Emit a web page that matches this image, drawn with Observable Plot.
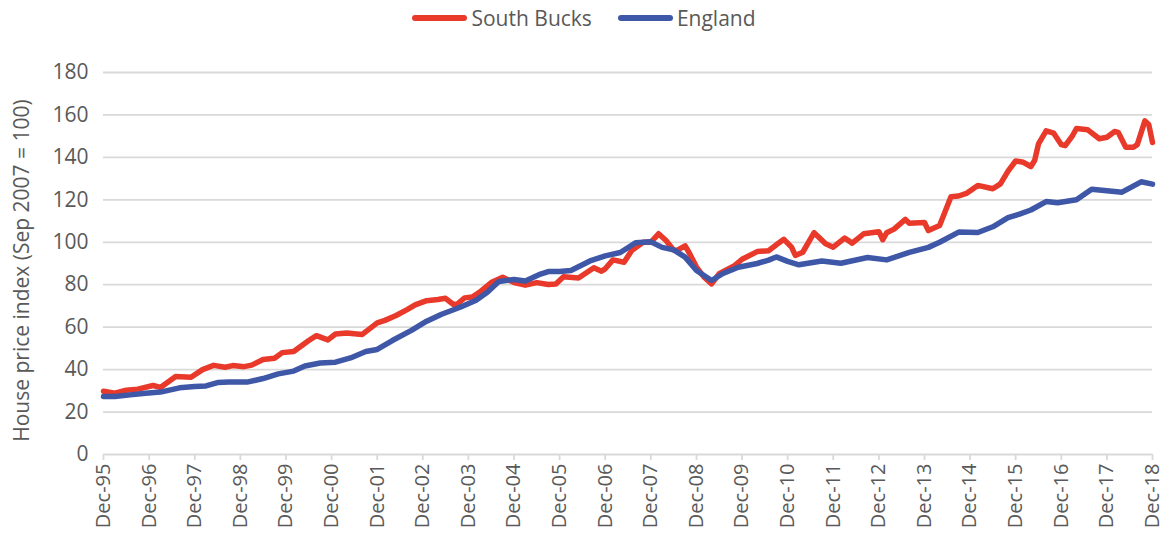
<!DOCTYPE html>
<html>
<head>
<meta charset="utf-8">
<script src="https://cdn.jsdelivr.net/npm/d3@7"></script>
<script src="https://cdn.jsdelivr.net/npm/@observablehq/plot@0.6"></script>
<style>
  html, body { margin: 0; padding: 0; background: #ffffff; }
  body { width: 1168px; height: 541px; overflow: hidden; font-family: "Open Sans", sans-serif; }
  #legend { height: 40px; display: flex; justify-content: center; align-items: flex-start; color: #595959; font-size: 21px; }
  #legend .item { display: flex; align-items: center; margin: 4px 13px 0 13px; line-height: 28px; }
  #legend .sw { width: 55px; height: 6px; border-radius: 3px; margin-right: 4px; }
</style>
</head>
<body>
<div id="legend"></div>
<div id="chart"></div>
<script>
const seriesNames = ["South Bucks", "England"];
const seriesColors = ["#e8392a", "#3f57a7"];
const yTickValues = [0, 20, 40, 60, 80, 100, 120, 140, 160, 180];
const xTickYears = [1995,1996,1997,1998,1999,2000,2001,2002,2003,2004,2005,2006,2007,2008,2009,2010,2011,2012,2013,2014,2015,2016,2017,2018];
const yTitle = "House price index (Sep 2007 = 100)";

const sbDates = ["1995-12","1996-03","1996-06","1996-09","1997-01","1997-03","1997-07","1997-11","1998-02","1998-05","1998-08","1998-10","1999-01","1999-03","1999-06","1999-09","1999-11","2000-02","2000-06","2000-08","2000-11","2001-01","2001-04","2001-08","2001-12","2002-02","2002-05","2002-08","2002-10","2003-01","2003-04","2003-06","2003-08","2003-09","2003-11","2004-01","2004-03","2004-06","2004-09","2004-12","2005-03","2005-06","2005-09","2005-11","2006-01","2006-05","2006-09","2006-11","2006-12","2007-02","2007-05","2007-07","2007-10","2007-12","2008-02","2008-04","2008-06","2008-07","2008-09","2008-10","2008-12","2009-02","2009-04","2009-06","2009-10","2009-12","2010-04","2010-07","2010-09","2010-11","2011-01","2011-02","2011-04","2011-07","2011-10","2011-12","2012-03","2012-05","2012-08","2012-12","2013-01","2013-02","2013-04","2013-07","2013-08","2013-12","2014-01","2014-04","2014-07","2014-09","2014-11","2015-02","2015-06","2015-08","2015-10","2015-12","2016-02","2016-04","2016-05","2016-06","2016-08","2016-10","2016-12","2017-01","2017-03","2017-04","2017-07","2017-10","2017-12","2018-02","2018-03","2018-05","2018-07","2018-08","2018-10","2018-11","2018-12"];
const sbValues = [29.8,28.9,30.3,30.8,32.5,31.6,36.8,36.4,40.0,42.0,41.1,41.9,41.4,42.1,44.8,45.4,48.0,48.5,53.7,56.0,54.0,56.8,57.2,56.5,62.0,63.2,65.5,68.4,70.5,72.5,73.0,73.6,70.8,70.8,73.8,74.2,76.5,81.0,83.5,81.0,79.8,81.0,80.1,80.3,83.8,83.2,88.0,86.4,87.5,91.7,90.6,96.1,100.0,100.0,104.0,100.8,96.3,96.3,98.3,95.3,88.3,83.5,80.4,85.2,89.0,92.0,95.6,96.0,98.8,101.4,97.7,93.8,95.3,104.5,99.3,97.7,102.0,99.6,104.0,105.0,101.2,104.5,106.2,110.8,109.0,109.3,105.5,107.9,121.5,121.8,123.0,126.8,125.2,127.5,133.5,138.3,137.7,135.7,138.5,146.4,152.5,151.4,146.0,145.5,150.3,153.6,153.0,148.8,149.5,152.2,151.8,144.8,144.8,146.0,157.2,155.5,147.0];

const enDates = ["1995-12","1996-03","1996-07","1996-11","1997-03","1997-08","1997-12","1998-03","1998-06","1998-09","1999-02","1999-06","1999-10","2000-02","2000-05","2000-09","2001-01","2001-05","2001-09","2001-12","2002-04","2002-09","2003-01","2003-05","2003-10","2004-02","2004-05","2004-08","2004-12","2005-03","2005-07","2005-09","2005-12","2006-03","2006-08","2006-12","2007-04","2007-08","2007-12","2008-03","2008-06","2008-09","2008-12","2009-04","2009-07","2009-11","2010-04","2010-07","2010-09","2010-12","2011-03","2011-09","2012-02","2012-09","2013-02","2013-08","2014-01","2014-04","2014-09","2015-02","2015-06","2015-10","2016-01","2016-04","2016-08","2016-11","2017-04","2017-08","2017-12","2018-04","2018-09","2018-12"];
const enValues = [27.3,27.3,28.1,28.9,29.4,31.4,32.0,32.3,33.9,34.2,34.2,35.8,38.0,39.3,41.7,43.1,43.5,45.5,48.5,49.5,53.7,58.5,62.8,66.1,69.5,72.7,76.4,81.5,82.5,81.8,85.0,86.2,86.2,86.7,91.2,93.6,95.2,99.8,100.2,97.6,96.4,93.0,86.7,82.0,85.3,88.2,90.0,91.6,93.1,91.0,89.4,91.2,90.1,92.8,91.7,95.2,97.6,100.0,104.8,104.6,107.3,111.6,113.3,115.2,119.2,118.6,120.0,125.0,124.3,123.6,128.5,127.4];

// legend
const legend = document.getElementById("legend");
seriesNames.forEach((name, i) => {
  const item = document.createElement("div");
  item.className = "item";
  const sw = document.createElement("span");
  sw.className = "sw";
  sw.style.background = seriesColors[i];
  const label = document.createElement("span");
  label.textContent = name;
  item.appendChild(sw);
  item.appendChild(label);
  legend.appendChild(item);
});

const parse = d3.utcParse("%Y-%m");
const sbRows = sbDates.map((d, i) => ({series: seriesNames[0], date: parse(d), value: sbValues[i]}));
const enRows = enDates.map((d, i) => ({series: seriesNames[1], date: parse(d), value: enValues[i]}));
const xTicks = xTickYears.map(y => new Date(Date.UTC(y, 11, 1)));
const fmtYY = d3.utcFormat("%y");

const chart = Plot.plot({
  width: 1168,
  height: 501,
  marginTop: 32,
  marginBottom: 87,
  marginLeft: 103,
  marginRight: 16,
  style: {fontFamily: "Open Sans, sans-serif", color: "#595959", background: "#ffffff"},
  x: {type: "utc", domain: [xTicks[0], xTicks[xTicks.length - 1]]},
  y: {domain: [0, 180]},
  marks: [
    Plot.gridY(yTickValues, {stroke: "#d9d9d9", strokeOpacity: 1, strokeWidth: 1.8}),
    Plot.axisY(yTickValues, {tickSize: 0, tickPadding: 15, fontSize: 21, fill: "#595959", label: null}),
    Plot.text([yTitle], {frameAnchor: "left", textAnchor: "middle", rotate: -90, dx: -81, dy: 7, fontSize: 21, fill: "#595959"}),
    Plot.axisX(xTicks, {tickFormat: d => "Dec-" + fmtYY(d), tickRotate: -90, tickSize: 6, tickPadding: 3, stroke: "#d9d9d9", strokeOpacity: 1, strokeWidth: 1.8, fontSize: 20, fill: "#595959", label: null}),
    Plot.line(sbRows, {x: "date", y: "value", stroke: seriesColors[0], strokeWidth: 5.5, strokeLinejoin: "round", strokeLinecap: "round"}),
    Plot.line(enRows, {x: "date", y: "value", stroke: seriesColors[1], strokeWidth: 5.5, strokeLinejoin: "round", strokeLinecap: "round"})
  ]
});
document.getElementById("chart").appendChild(chart);
</script>
</body>
</html>
